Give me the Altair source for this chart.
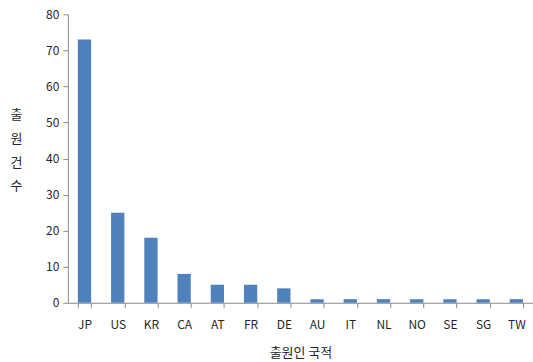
import altair as alt
import pandas as pd

countries = ["JP", "US", "KR", "CA", "AT", "FR", "DE", "AU", "IT", "NL", "NO", "SE", "SG", "TW"]
counts = [73, 25, 18, 8, 5, 5, 4, 1, 1, 1, 1, 1, 1, 1]

df = pd.DataFrame({"country": countries, "count": counts})

FONT = "Noto Sans CJK KR"
AXIS_GRAY = "#8c8c8c"
TEXT = "#262626"

chart = (
    alt.Chart(df)
    .mark_bar(color="#4F81BD")
    .encode(
        x=alt.X(
            "country:N",
            sort=countries,
            scale=alt.Scale(paddingInner=0.6, paddingOuter=0.3),
            axis=alt.Axis(
                title="출원인 국적",
                labelAngle=0,
                labelPadding=12,
                tickBand="extent",
                tickSize=5,
                titlePadding=16,
                titleFontWeight="normal",
                titleFontSize=13,
            ),
        ),
        y=alt.Y(
            "count:Q",
            scale=alt.Scale(domain=[0, 80], nice=False),
            axis=alt.Axis(
                title=["출", "원", "건", "수"],
                values=list(range(0, 81, 10)),
                grid=False,
                tickSize=5,
                labelPadding=4,
                titleAngle=0,
                titleAlign="center",
                titleBaseline="top",
                titleX=-52,
                titleY=94,
                titleLineHeight=24,
                titleFontWeight="normal",
                titleFontSize=13,
            ),
        ),
    )
    .properties(
        width=466,
        height=289,
        autosize=alt.AutoSizeParams(type="none"),
        padding={"left": 68, "top": 14, "right": 0, "bottom": 59},
    )
    .configure_view(stroke=None)
    .configure_axis(
        domainColor=AXIS_GRAY,
        tickColor=AXIS_GRAY,
        labelColor=TEXT,
        titleColor=TEXT,
        labelFont=FONT,
        titleFont=FONT,
        labelFontSize=12,
    )
)

chart.save("out.html", embed_options={"renderer": "svg", "actions": False})
